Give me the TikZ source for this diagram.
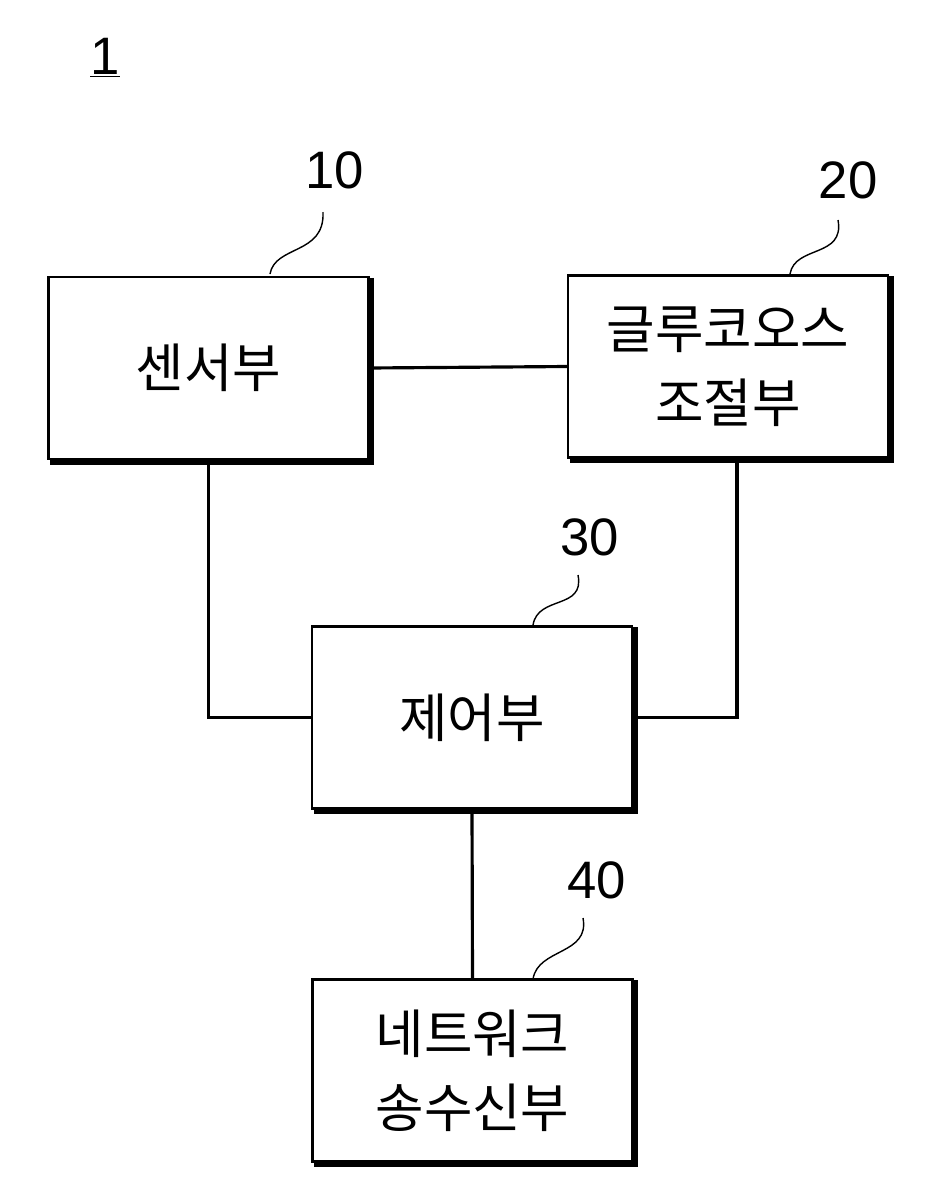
\documentclass[tikz,border=0pt]{standalone}
\usepackage{fontspec}
\setmainfont{Liberation Sans}
\newfontfamily\kr{Noto Sans CJK KR}
\usetikzlibrary{positioning}
\tikzset{
  unit/.style={draw, line width=1.2pt, rectangle, minimum width=6.4cm, minimum height=3.64cm,
    align=center, font=\kr\fontsize{30}{42}\selectfont},
  refnum/.style={font=\fontsize{30}{30}\selectfont},
  link/.style={line width=1.8pt},
  leader/.style={line width=0.8pt}
}
\begin{document}
\begin{tikzpicture}[x=0.02cm,y=-0.02cm]
		\useasboundingbox (0,0) rectangle (940,1204);
		
		% title
		\node[refnum] (fig) at (105,58) {\underline{1}};
		
		% units
		\node[unit] (sensor) at (208.5,368) {센서부};
		\node[unit] (glucose) at (728,366.5) {글루코오스\\조절부};
		\node[unit] (control) at (472,717.5) {제어부};
		\node[unit] (network) at (472.5,1070.5) {네트워크\\송수신부};
		
		% shadows
		\foreach \n in {sensor, glucose, control, network} {
			\draw[line width=2.4pt] ([shift={(2.5,2)}]\n.north east) -- ([shift={(2.5,2.5)}]\n.south east) -- ([shift={(3,2.5)}]\n.south west);
		}
		
		% reference numbers
		\node[refnum] (n10) at (335,170) {10};
		\node[refnum] (n20) at (848,180) {20};
		\node[refnum] (n30) at (590,537) {30};
		\node[refnum] (n40) at (597,880) {40};
		\coordinate (l10) at (270,274);
		\coordinate (l20) at (790,274);
		\coordinate (l30) at (533,625);
		\coordinate (l40) at (533,979);
		\draw[leader] (l10) .. controls (275,245) and (325,255) .. (323,212);
		\draw[leader] (l20) .. controls (795,245) and (845,258) .. (838,220);
		\draw[leader] (l30) .. controls (538,595) and (585,610) .. (578,575);
		\draw[leader] (l40) .. controls (538,948) and (590,955) .. (583,918);
		
		% connections
		\draw[link] (sensor.east) -- (glucose.west);
		\draw[link] (sensor.south) |- (control.west);
		\draw[link] ([xshift=0.18cm]glucose.south) |- (control.east);
		\draw[link] (control.south) -- (network.north);
		
	\end{tikzpicture}
\end{document}
